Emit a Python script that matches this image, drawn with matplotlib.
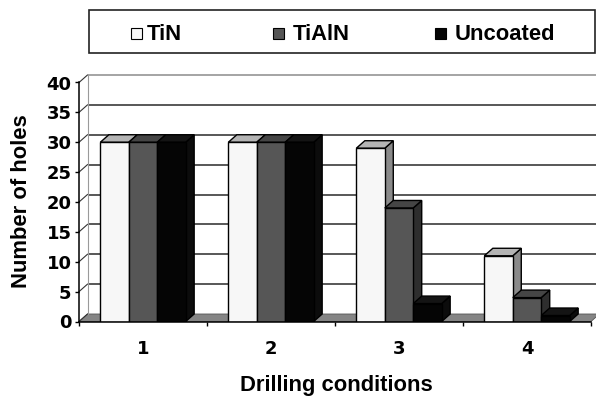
import matplotlib
matplotlib.use("Agg")
import matplotlib.pyplot as plt
from matplotlib.patches import Polygon, Rectangle
import numpy as np

# data
conditions = ["1", "2", "3", "4"]
series = ["TiN", "TiAlN", "Uncoated"]
tin = [30, 30, 29, 11]
tialn = [30, 30, 19, 4]
uncoated = [30, 30, 3, 1]
y_ticks = [0, 5, 10, 15, 20, 25, 30, 35, 40]

W, H, DPI = 596, 399, 100

# front / top / side face colours
FACES = {
    "TiN":      ("#f7f7f7", "#b4b4b4", "#8a8a8a"),
    "TiAlN":    ("#565656", "#454545", "#2e2e2e"),
    "Uncoated": ("#050505", "#141414", "#0c0c0c"),
}
WORD_FONT = ["Liberation Sans", "DejaVu Sans"]
NUM_FONT = ["DejaVu Sans"]

fig = plt.figure(figsize=(W / DPI, H / DPI), dpi=DPI)
fig.patch.set_facecolor("white")

# front plane of the plot area, in pixels
AX_L, AX_R, AX_TOP, AX_BOT = 79, 591, 82.5, 321.5
ax = fig.add_axes([AX_L / W, 1 - AX_BOT / H, (AX_R - AX_L) / W, (AX_BOT - AX_TOP) / H])
n = len(conditions)
ax.set_xlim(0, n)
ax.set_ylim(0, y_ticks[-1])
ax.patch.set_visible(False)

# depth of the fake 3d, converted to data units
DX_PX, DY_PX = 8.5, 7.5
ddx = DX_PX / ((AX_R - AX_L) / n)
ddy = DY_PX / ((AX_BOT - AX_TOP) / y_ticks[-1])

# floor + back wall
ax.add_patch(Polygon([(0, 0), (n, 0), (n + ddx, ddy), (ddx, ddy)], closed=True,
                     facecolor="#858585", edgecolor="#555555", lw=0.6,
                     clip_on=False, zorder=1))
for v in y_ticks[1:]:
    col = "#8c8c8c" if v == y_ticks[-1] else "#2a2a2a"
    ax.plot([ddx, n + ddx], [v + ddy, v + ddy], color=col, lw=1.1,
            clip_on=False, zorder=1.5, solid_capstyle="butt")
for v in y_ticks:
    ax.plot([0, ddx], [v, v + ddy], color="#333333", lw=0.8, clip_on=False, zorder=1.5)
ax.plot([ddx, ddx], [ddy, y_ticks[-1] + ddy], color="#9a9a9a", lw=0.8,
        clip_on=False, zorder=1.5)

# bars, drawn left to right so each one hides the previous side face
w = 1 / (len(series) + 1.5)
for k, (name, vals) in enumerate(zip(series, [tin, tialn, uncoated])):
    front, top, side = FACES[name]
    x = np.arange(n) + 0.75 * w + k * w
    bars = ax.bar(x, vals, width=w, align="edge", color=front,
                  edgecolor="black", lw=1.0)
    for i, rect in enumerate(bars):
        z = 3 + (i * len(series) + k) * 0.01
        rect.set_zorder(z + 0.003)
        x0 = rect.get_x()
        x1 = x0 + rect.get_width()
        h = rect.get_height()
        ax.add_patch(Polygon([(x1, 0), (x1 + ddx, ddy), (x1 + ddx, h + ddy), (x1, h)],
                             closed=True, facecolor=side, edgecolor="black", lw=1.0,
                             clip_on=False, zorder=z + 0.001))
        ax.add_patch(Polygon([(x0, h), (x1, h), (x1 + ddx, h + ddy), (x0 + ddx, h + ddy)],
                             closed=True, facecolor=top, edgecolor="black", lw=1.0,
                             clip_on=False, zorder=z + 0.002))

# axes
for s in ["top", "right"]:
    ax.spines[s].set_visible(False)
for s in ["left", "bottom"]:
    ax.spines[s].set_linewidth(1.1)
    ax.spines[s].set_zorder(10)

ax.set_yticks(y_ticks)
ax.set_yticklabels([str(v) for v in y_ticks], fontfamily=NUM_FONT,
                   fontweight="bold", fontsize=13)
ax.tick_params(axis="y", direction="out", length=3, width=1, pad=2.4)

ax.set_xticks(range(n + 1))
ax.set_xticklabels([])
ax.set_xticks(np.arange(n) + 0.5, minor=True)
ax.set_xticklabels(conditions, minor=True, fontfamily=NUM_FONT,
                   fontweight="bold", fontsize=13)
ax.tick_params(axis="x", which="major", direction="out", length=3, width=1)
ax.tick_params(axis="x", which="minor", length=0, pad=13)

fig.text(22 / W, 1 - 201 / H, "Number of holes", rotation=90, ha="center",
         va="center", fontfamily=WORD_FONT, fontweight="bold", fontsize=15.8)
fig.text(336 / W, 1 - 391.5 / H, "Drilling conditions", ha="center",
         va="baseline", fontfamily=WORD_FONT, fontweight="bold", fontsize=15.8)

# legend box across the top
fig.patches.append(Rectangle((89 / W, 1 - 53 / H), (595 - 89) / W, 43 / H,
                             transform=fig.transFigure, facecolor="white",
                             edgecolor="#222222", lw=1.2))
marker_x = [131, 273, 435]
text_x = [147, 293, 455]
for name, mx, tx in zip(series, marker_x, text_x):
    fig.patches.append(Rectangle((mx / W, 1 - 38.5 / H), 11 / W, 11 / H,
                                 transform=fig.transFigure,
                                 facecolor=FACES[name][0], edgecolor="black", lw=0.8))
    fig.text(tx / W, 1 - 39.5 / H, name, ha="left", va="baseline",
             fontfamily=WORD_FONT, fontweight="bold", fontsize=15.8)

fig.savefig("out.png", dpi=DPI)
